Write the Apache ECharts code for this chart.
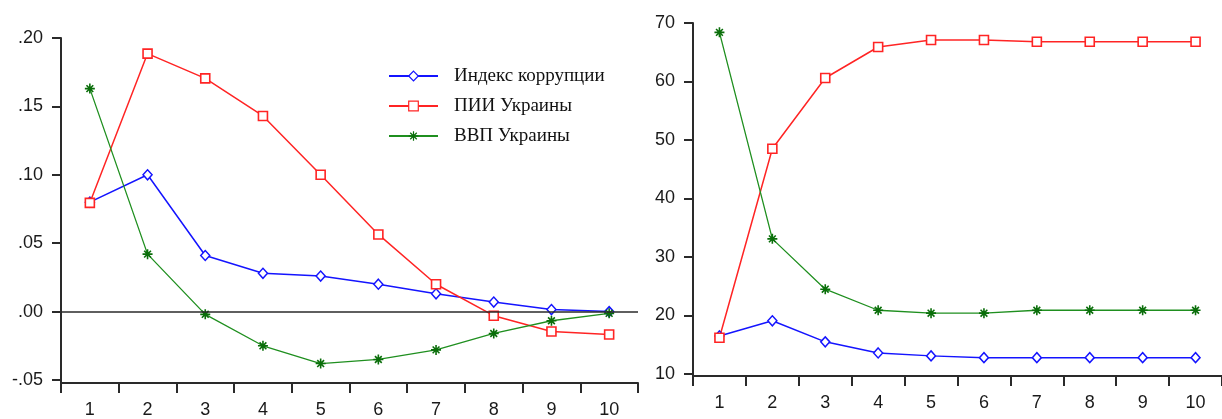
<!DOCTYPE html>
<html>
<head>
<meta charset="utf-8">
<script src="https://cdn.jsdelivr.net/npm/echarts@6/dist/echarts.min.js"></script>
<style>
  html, body { margin: 0; padding: 0; background: #fff; }
  #chart { width: 1222px; height: 419px; }
</style>
</head>
<body>
<div id="chart"></div>
<script>
// periods on both x axes
const periods = ['1', '2', '3', '4', '5', '6', '7', '8', '9', '10'];

// left panel: impulse responses
const irfCorruption = [0.080, 0.100, 0.041, 0.028, 0.026, 0.020, 0.013, 0.007, 0.0015, 0.000];
const irfFdi = [0.0795, 0.1886, 0.1705, 0.143, 0.100, 0.0564, 0.020, -0.003, -0.0145, -0.0168];
const irfGdp = [0.163, 0.042, -0.002, -0.025, -0.038, -0.035, -0.028, -0.016, -0.0067, -0.0013];
const leftTicks = [-0.05, 0, 0.05, 0.10, 0.15, 0.20];

// right panel: variance decomposition, %
const vdCorruption = [16.5, 19.1, 15.5, 13.6, 13.1, 12.8, 12.8, 12.8, 12.8, 12.8];
const vdFdi = [16.2, 48.5, 60.6, 65.9, 67.1, 67.1, 66.8, 66.8, 66.8, 66.8];
const vdGdp = [68.4, 33.1, 24.5, 20.9, 20.4, 20.4, 20.9, 20.9, 20.9, 20.9];
const rightTicks = [10, 20, 30, 40, 50, 60, 70];

const names = ['Индекс коррупции', 'ПИИ Украины', 'ВВП Украины'];

const BLUE = '#1414ff';
const RED = '#ff2424';
const GREEN = '#1f8f1f';
const AXIS = '#2a2a2a';
const STAR = 'path://M5,0L5,10M0,5L10,5M1.6,1.6L8.4,8.4M8.4,1.6L1.6,8.4';

const sansFont = '"Liberation Sans", Arial, sans-serif';

function xAxisFor(gridIndex) {
  return {
    type: 'category',
    gridIndex: gridIndex,
    data: periods,
    boundaryGap: true,
    axisLine: { show: true, onZero: false, lineStyle: { color: AXIS, width: 2 } },
    axisTick: { show: true, length: 10, lineStyle: { color: AXIS, width: 2 } },
    axisLabel: { color: '#1a1a1a', fontFamily: sansFont, fontSize: 18, margin: 18 },
    splitLine: { show: false }
  };
}

function yAxisFor(gridIndex, min, max, ticks, fmt) {
  return {
    type: 'value',
    gridIndex: gridIndex,
    min: min,
    max: max,
    axisLine: { show: true, onZero: false, lineStyle: { color: AXIS, width: 2 } },
    axisTick: { show: true, length: 9, customValues: ticks, lineStyle: { color: AXIS, width: 2 } },
    axisLabel: { color: '#1a1a1a', fontFamily: sansFont, fontSize: 18, margin: 18, customValues: ticks, formatter: fmt },
    splitLine: { show: false }
  };
}

function lineSeries(name, data, idx, kind) {
  const s = {
    name: name,
    type: 'line',
    xAxisIndex: idx,
    yAxisIndex: idx,
    data: data,
    symbolSize: 9,
    lineStyle: { width: 1.5 },
    emphasis: { disabled: true },
    animation: false
  };
  if (kind === 'blue') {
    s.symbol = 'diamond';
    s.symbolSize = [9, 10];
    s.lineStyle.color = BLUE;
    s.itemStyle = { color: '#fff', borderColor: BLUE, borderWidth: 1.5 };
  } else if (kind === 'red') {
    s.symbol = 'rect';
    s.lineStyle.color = RED;
    s.itemStyle = { color: '#fff', borderColor: RED, borderWidth: 1.6 };
  } else {
    s.symbol = STAR;
    s.symbolSize = 10;
    s.lineStyle.color = GREEN;
    s.lineStyle.width = 1.3;
    s.itemStyle = { color: '#0a6e0a', borderColor: '#0a6e0a', borderWidth: 1.6 };
  }
  return s;
}

const leftFmt = function (v) {
  return v.toFixed(2).replace('0.', '.');
};

const chart = echarts.init(document.getElementById('chart'), null, { renderer: 'canvas' });

const blueLeft = lineSeries(names[0], irfCorruption, 0, 'blue');
// horizontal zero line of the impulse response panel
blueLeft.markLine = {
  silent: true,
  symbol: 'none',
  label: { show: false },
  lineStyle: { color: AXIS, width: 1.5, type: 'solid' },
  data: [{ yAxis: 0 }]
};

chart.setOption({
  backgroundColor: '#fff',
  animation: false,
  grid: [
    { left: 61, right: 584, top: 38, bottom: 32 },
    { left: 693, right: -6, top: 23, bottom: 43 }
  ],
  legend: {
    orient: 'vertical',
    left: 383,
    top: 61,
    data: names,
    itemWidth: 49,
    itemHeight: 12,
    itemGap: 10,
    selectedMode: false,
    itemStyle: { borderWidth: 1.2 },
    textStyle: {
      fontFamily: '"Liberation Serif", "Times New Roman", serif',
      fontSize: 19,
      lineHeight: 20,
      color: '#111',
      padding: [0, 0, 0, 11]
    }
  },
  xAxis: [xAxisFor(0), xAxisFor(1)],
  yAxis: [
    yAxisFor(0, -0.0522, 0.2, leftTicks, leftFmt),
    yAxisFor(1, 9.66, 70, rightTicks, function (v) { return String(v); })
  ],
  series: [
    blueLeft,
    lineSeries(names[1], irfFdi, 0, 'red'),
    lineSeries(names[2], irfGdp, 0, 'green'),
    lineSeries(names[0], vdCorruption, 1, 'blue'),
    lineSeries(names[1], vdFdi, 1, 'red'),
    lineSeries(names[2], vdGdp, 1, 'green')
  ]
});
</script>
</body>
</html>
